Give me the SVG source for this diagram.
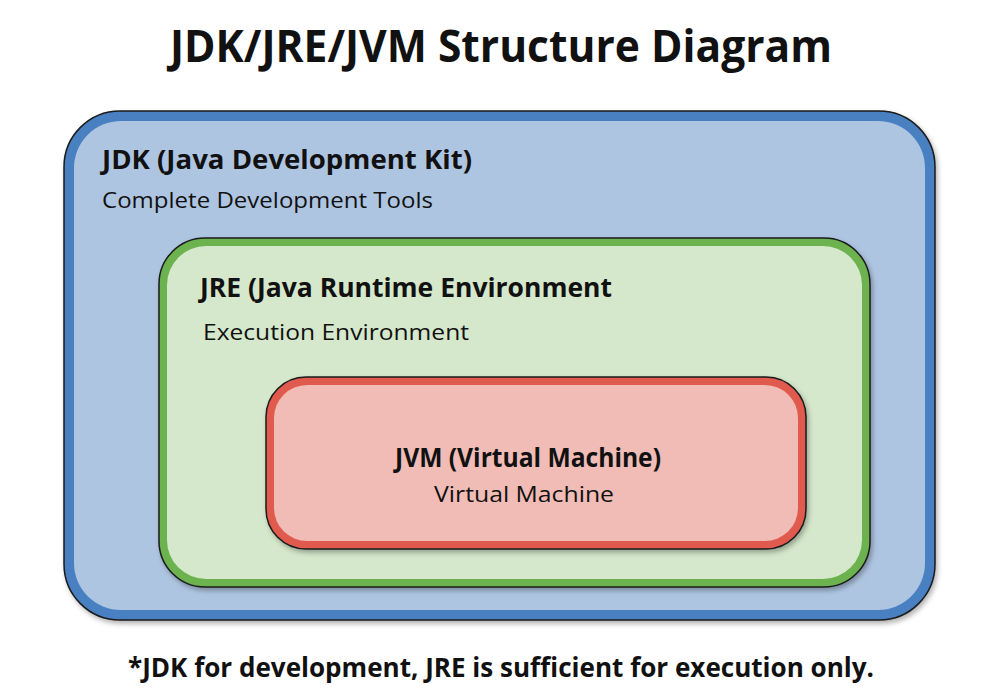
<svg xmlns="http://www.w3.org/2000/svg" width="1000" height="700" viewBox="0 0 1000 700">
<defs>
<filter id="sh" x="-5%" y="-5%" width="110%" height="115%">
<feDropShadow dx="2" dy="3" stdDeviation="2.5" flood-color="#000" flood-opacity="0.3"/>
</filter>
</defs>
<style>
text{font-family:"Open Sans","Noto Sans","Liberation Sans",sans-serif;fill:#111;}
.t{font-weight:bold;font-size:45px;}
.h{font-weight:bold;font-size:27px;}
.s{font-size:22px;}
.f{font-weight:bold;font-size:26px;}
.box{stroke:#1a1a1a;stroke-width:1.5;}
</style>
<rect width="1000" height="700" fill="#ffffff"/>
<text class="t" x="501" y="62" text-anchor="middle" textLength="662" lengthAdjust="spacingAndGlyphs">JDK/JRE/JVM Structure Diagram</text>
<g id="jdk">
<rect class="box" x="64" y="111" width="871" height="509" rx="56" fill="#4a80c2" filter="url(#sh)"/>
<rect x="74" y="121" width="851" height="489" rx="47" fill="#aec5e1"/>
<text class="h" x="102" y="169" textLength="370" lengthAdjust="spacingAndGlyphs">JDK (Java Development Kit)</text>
<text class="s" x="102" y="208" textLength="331" lengthAdjust="spacingAndGlyphs">Complete Development Tools</text>
</g>
<g id="jre">
<rect class="box" x="159" y="238" width="711" height="349" rx="46" fill="#6cb24f" filter="url(#sh)"/>
<rect x="167" y="246" width="695" height="333" rx="39" fill="#d5e8cb"/>
<text class="h" x="200" y="297" textLength="412" lengthAdjust="spacingAndGlyphs">JRE (Java Runtime Environment</text>
<text class="s" x="203" y="340" textLength="266" lengthAdjust="spacingAndGlyphs">Execution Environment</text>
</g>
<g id="jvm">
<rect class="box" x="266" y="377" width="540" height="172" rx="40" fill="#e05a4e" filter="url(#sh)"/>
<rect x="274" y="385" width="524" height="156" rx="33" fill="#f0bcb5"/>
<text class="h" x="528" y="467" text-anchor="middle" textLength="266" lengthAdjust="spacingAndGlyphs">JVM (Virtual Machine)</text>
<text class="s" x="524" y="502" text-anchor="middle" textLength="180" lengthAdjust="spacingAndGlyphs">Virtual Machine</text>
</g>
<g id="connectors"></g>
<text class="f" x="501" y="677" text-anchor="middle" textLength="746" lengthAdjust="spacingAndGlyphs">*JDK for development, JRE is sufficient for execution only.</text>
</svg>
